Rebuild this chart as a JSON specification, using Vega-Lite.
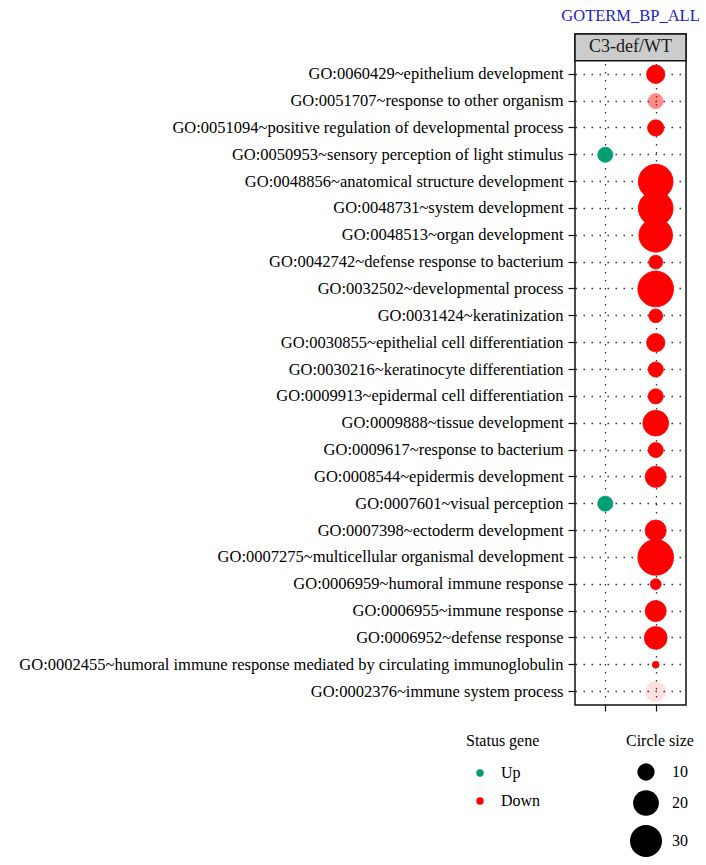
{
  "$schema": "https://vega.github.io/schema/vega-lite/v6.json",
  "autosize": {"type": "none"},
  "padding": {"left": 575, "top": 34, "right": 20, "bottom": 160},
  "width": 111,
  "height": 671,
  "background": "white",
  "title": {
    "text": "GOTERM_BP_ALL",
    "anchor": "middle",
    "frame": "group",
    "font": "Liberation Serif",
    "fontSize": 16.5,
    "fontWeight": "normal",
    "color": "#1c1ccc",
    "offset": 9
  },
  "config": {
    "font": "Liberation Serif",
    "view": {"stroke": "#111111", "strokeWidth": 1.5},
    "legend": {
      "titleFont": "Liberation Serif",
      "labelFont": "Liberation Serif",
      "titleFontSize": 16,
      "titleFontWeight": "normal",
      "titleColor": "black",
      "labelFontSize": 16,
      "labelColor": "black"
    }
  },
  "data": {
    "values": [
      {"term": "hdr", "kind": "header", "label": "C3-def/WT"},
      {"term": "GO:0060429~epithelium development", "kind": "term", "status": "Down", "count": 11, "alpha": 1},
      {"term": "GO:0051707~response to other organism", "kind": "term", "status": "Down", "count": 8, "alpha": 0.45},
      {"term": "GO:0051094~positive regulation of developmental process", "kind": "term", "status": "Down", "count": 9, "alpha": 1},
      {"term": "GO:0050953~sensory perception of light stimulus", "kind": "term", "status": "Up", "count": 8, "alpha": 1},
      {"term": "GO:0048856~anatomical structure development", "kind": "term", "status": "Down", "count": 35, "alpha": 1},
      {"term": "GO:0048731~system development", "kind": "term", "status": "Down", "count": 35, "alpha": 1},
      {"term": "GO:0048513~organ development", "kind": "term", "status": "Down", "count": 33, "alpha": 1},
      {"term": "GO:0042742~defense response to bacterium", "kind": "term", "status": "Down", "count": 7, "alpha": 1},
      {"term": "GO:0032502~developmental process", "kind": "term", "status": "Down", "count": 37, "alpha": 1},
      {"term": "GO:0031424~keratinization", "kind": "term", "status": "Down", "count": 7, "alpha": 1},
      {"term": "GO:0030855~epithelial cell differentiation", "kind": "term", "status": "Down", "count": 11, "alpha": 1},
      {"term": "GO:0030216~keratinocyte differentiation", "kind": "term", "status": "Down", "count": 8, "alpha": 1},
      {"term": "GO:0009913~epidermal cell differentiation", "kind": "term", "status": "Down", "count": 8, "alpha": 1},
      {"term": "GO:0009888~tissue development", "kind": "term", "status": "Down", "count": 20, "alpha": 1},
      {"term": "GO:0009617~response to bacterium", "kind": "term", "status": "Down", "count": 8, "alpha": 1},
      {"term": "GO:0008544~epidermis development", "kind": "term", "status": "Down", "count": 14, "alpha": 1},
      {"term": "GO:0007601~visual perception", "kind": "term", "status": "Up", "count": 8, "alpha": 1},
      {"term": "GO:0007398~ectoderm development", "kind": "term", "status": "Down", "count": 14, "alpha": 1},
      {"term": "GO:0007275~multicellular organismal development", "kind": "term", "status": "Down", "count": 37, "alpha": 1},
      {"term": "GO:0006959~humoral immune response", "kind": "term", "status": "Down", "count": 5, "alpha": 1},
      {"term": "GO:0006955~immune response", "kind": "term", "status": "Down", "count": 14, "alpha": 1},
      {"term": "GO:0006952~defense response", "kind": "term", "status": "Down", "count": 16, "alpha": 1},
      {"term": "GO:0002455~humoral immune response mediated by circulating immunoglobulin", "kind": "term", "status": "Down", "count": 3, "alpha": 1},
      {"term": "GO:0002376~immune system process", "kind": "term", "status": "Down", "count": 13, "alpha": 0.12}
    ]
  },
  "encoding": {
    "y": {
      "field": "term",
      "type": "nominal",
      "sort": null,
      "scale": {
        "type": "band",
        "paddingInner": 0,
        "paddingOuter": 0,
        "domain": [
          "hdr",
          "GO:0060429~epithelium development",
          "GO:0051707~response to other organism",
          "GO:0051094~positive regulation of developmental process",
          "GO:0050953~sensory perception of light stimulus",
          "GO:0048856~anatomical structure development",
          "GO:0048731~system development",
          "GO:0048513~organ development",
          "GO:0042742~defense response to bacterium",
          "GO:0032502~developmental process",
          "GO:0031424~keratinization",
          "GO:0030855~epithelial cell differentiation",
          "GO:0030216~keratinocyte differentiation",
          "GO:0009913~epidermal cell differentiation",
          "GO:0009888~tissue development",
          "GO:0009617~response to bacterium",
          "GO:0008544~epidermis development",
          "GO:0007601~visual perception",
          "GO:0007398~ectoderm development",
          "GO:0007275~multicellular organismal development",
          "GO:0006959~humoral immune response",
          "GO:0006955~immune response",
          "GO:0006952~defense response",
          "GO:0002455~humoral immune response mediated by circulating immunoglobulin",
          "GO:0002376~immune system process"
        ]
      },
      "axis": {
        "title": null,
        "domain": false,
        "bandPosition": 0.5,
        "labelExpr": "datum.value == 'hdr' ? '' : datum.value",
        "labelFont": "Liberation Serif",
        "labelFontSize": 16.5,
        "labelColor": "black",
        "labelPadding": 5,
        "labelLimit": 700,
        "tickSize": 7,
        "tickWidth": 1.2,
        "tickColor": {"condition": {"test": "datum.value == 'hdr'", "value": "transparent"}, "value": "#111111"},
        "grid": true,
        "gridDash": [1.5, 6.5],
        "gridWidth": 1.3,
        "gridColor": {"condition": {"test": "datum.value == 'hdr'", "value": "transparent"}, "value": "#333333"}
      }
    }
  },
  "layer": [
    {
      "transform": [{"filter": "datum.kind == 'term'"}],
      "mark": {"type": "circle", "strokeWidth": 0.8},
      "encoding": {
        "x": {
          "field": "status",
          "type": "nominal",
          "scale": {"type": "point", "domain": ["Up", "Down"], "padding": 0.6},
          "axis": {
            "title": null,
            "labels": false,
            "domain": false,
            "tickSize": 6,
            "tickWidth": 1.2,
            "tickColor": "#111111",
            "grid": true,
            "gridDash": [1.5, 6.5],
            "gridWidth": 1.3,
            "gridColor": "#333333"
          }
        },
        "color": {
          "field": "status",
          "type": "nominal",
          "title": "Status gene",
          "scale": {"domain": ["Up", "Down"], "range": ["#009E73", "#FF0000"]},
          "legend": {
            "orient": "none",
            "legendX": -109,
            "legendY": 699,
            "symbolType": "circle",
            "symbolSize": 55,
            "symbolStrokeWidth": 0,
            "symbolOpacity": 1,
            "symbolOffset": 6,
            "labelOffset": 13,
            "titlePadding": 16,
            "rowPadding": 12
          }
        },
        "stroke": {
          "field": "status",
          "type": "nominal",
          "scale": {"domain": ["Up", "Down"], "range": ["#009E73", "#FF0000"]},
          "legend": null
        },
        "size": {
          "field": "count",
          "type": "quantitative",
          "title": "Circle size",
          "scale": {"type": "linear", "domain": [10, 30], "range": [300, 1024], "zero": false},
          "legend": {
            "orient": "none",
            "legendX": 51,
            "legendY": 699,
            "values": [10, 20, 30],
            "symbolType": "circle",
            "symbolFillColor": "black",
            "symbolStrokeColor": "black",
            "symbolStrokeWidth": 0,
            "symbolOpacity": 1,
            "symbolOffset": 4,
            "labelOffset": 10,
            "titlePadding": 14,
            "rowPadding": 9
          }
        },
        "opacity": {"field": "alpha", "type": "quantitative", "scale": null, "legend": null}
      }
    },
    {
      "transform": [{"filter": "datum.kind == 'header'"}],
      "mark": {"type": "rect", "fill": "#cccccc", "stroke": "#111111", "strokeWidth": 1.5},
      "encoding": {}
    },
    {
      "transform": [{"filter": "datum.kind == 'header'"}],
      "mark": {"type": "text", "font": "Liberation Serif", "fontSize": 18, "color": "#1a1a1a"},
      "encoding": {"text": {"field": "label"}}
    }
  ]
}
